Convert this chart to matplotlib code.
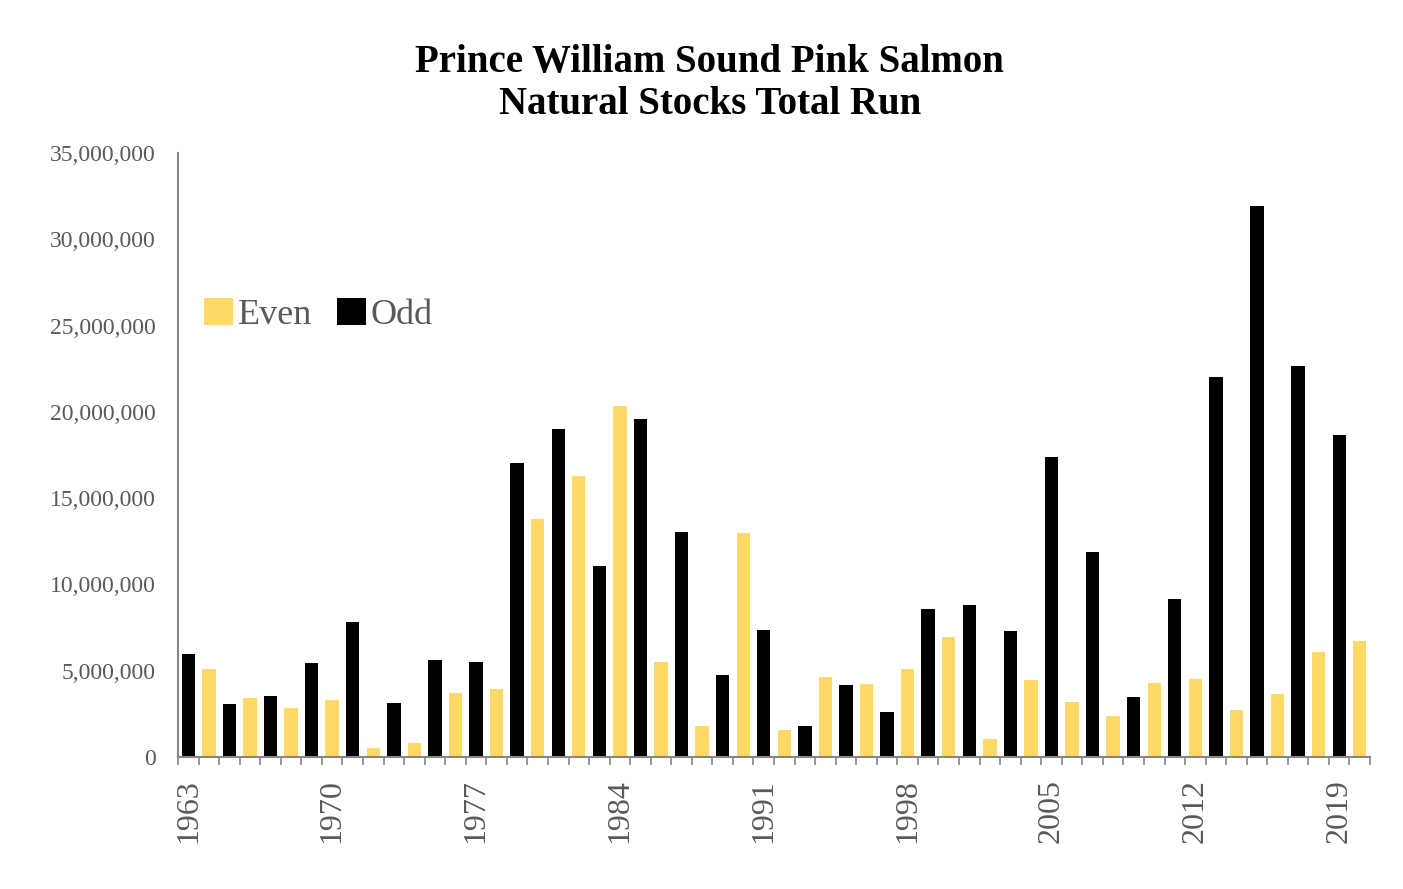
import numpy as np
from matplotlib import pyplot as plt

# total run by year, millions of fish
years = list(range(1963, 2021))
runs = [5.95, 5.12, 3.05, 3.44, 3.53, 2.86, 5.47, 3.28, 7.84, 0.54,
        3.15, 0.79, 5.62, 3.73, 5.53, 3.92, 17.06, 13.77, 19.03, 16.28,
        11.07, 20.35, 19.6, 5.5, 13.06, 1.8, 4.75, 12.96, 7.36, 1.56,
        1.8, 4.66, 4.15, 4.25, 2.6, 5.12, 8.56, 6.98, 8.81, 1.02,
        7.3, 4.47, 17.4, 3.16, 11.87, 2.4, 3.49, 4.27, 9.15, 4.53,
        22.0, 2.72, 31.9, 3.66, 22.68, 6.1, 18.63, 6.71]
label_years = [1963, 1970, 1977, 1984, 1991, 1998, 2005, 2012, 2019]
y_ticks = [0, 5e6, 10e6, 15e6, 20e6, 25e6, 30e6, 35e6]

even_years = [y for y in years if y % 2 == 0]
even_runs = [r * 1e6 for y, r in zip(years, runs) if y % 2 == 0]
odd_years = [y for y in years if y % 2 == 1]
odd_runs = [r * 1e6 for y, r in zip(years, runs) if y % 2 == 1]

EVEN_COLOR = "#FFD966"
ODD_COLOR = "#000000"
GRAY = "#595959"
SERIF = ["Liberation Serif", "DejaVu Serif"]

fig = plt.figure(figsize=(14.03, 8.89), dpi=100)
ax = fig.add_axes([0.1269, 0.1485, 0.8496, 0.6794])

ax.bar(even_years, even_runs, width=0.65, color=EVEN_COLOR, label="Even")
ax.bar(odd_years, odd_runs, width=0.65, color=ODD_COLOR, label="Odd")

ax.set_xlim(years[0] - 0.5, years[-1] + 0.5)
ax.set_ylim(0, 35e6)

ax.set_yticks(y_ticks)
ax.set_yticklabels(["{:,.0f}".format(v) for v in y_ticks],
                   fontfamily=SERIF, fontsize=17, color=GRAY)
ax.tick_params(axis="y", length=0, pad=16)

ax.set_xticks(label_years)
ax.set_xticklabels([str(y) for y in label_years], rotation=90,
                   fontfamily=SERIF, fontsize=23, color=GRAY)
ax.set_xticks(np.arange(years[0] - 0.5, years[-1] + 1, 1.0), minor=True)
ax.tick_params(axis="x", which="major", length=0, pad=16)
ax.tick_params(axis="x", which="minor", length=6, color="#868686", width=1.2)

for side in ("top", "right"):
    ax.spines[side].set_visible(False)
for side in ("left", "bottom"):
    ax.spines[side].set_color("#868686")
    ax.spines[side].set_linewidth(1.5)

ax.legend(loc="center left", bbox_to_anchor=(0.022, 0.732), ncol=2,
          frameon=False, prop={"family": SERIF, "size": 26},
          handlelength=0.8, handleheight=0.8, handletextpad=0.12,
          columnspacing=0.7, borderpad=0, borderaxespad=0,
          labelcolor=GRAY)

fig.text(0.506, 0.906, "Prince William Sound Pink Salmon\nNatural Stocks Total Run",
         ha="center", va="center", fontfamily=SERIF, fontweight="bold",
         fontsize=28, linespacing=1.2)

fig.savefig("out.png", dpi=100)
